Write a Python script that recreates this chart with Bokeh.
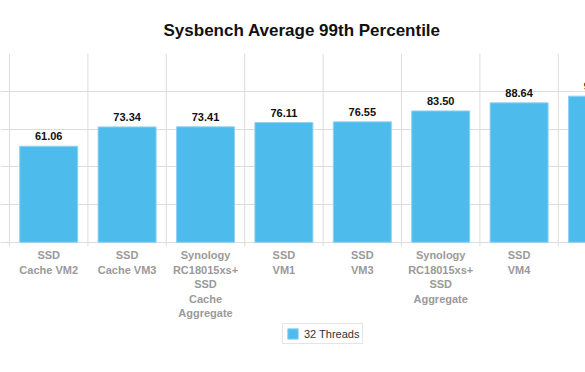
from bokeh.plotting import figure
from bokeh.models import ColumnDataSource, FixedTicker, Legend, LegendItem, Range1d
from bokeh.core.properties import value
from bokeh.embed import file_html
from bokeh.resources import INLINE

categories = ["SSD\nCache VM2", "SSD\nCache VM3", "Synology\nRC18015xs+\nSSD\nCache\nAggregate",
              "SSD\nVM1", "SSD\nVM3", "Synology\nRC18015xs+\nSSD\nAggregate", "SSD\nVM4", "SSD\nVM2"]
values = [61.06, 73.34, 73.41, 76.11, 76.55, 83.50, 88.64, 92.90]
value_labels = ["61.06", "73.34", "73.41", "76.11", "76.55", "83.50", "88.64", "92.90"]
series_name = "32 Threads"
y_ticks = [0, 24, 48, 72, 96, 120]

FONT = "Liberation Sans"
BLUE = "#4dbbeb"
GRID = "#dddddd"
TICK_LEN = 2.5  # tick length below the baseline, in data units

xs = list(range(len(categories)))
src = ColumnDataSource(dict(x=xs, top=values, lab=value_labels, cat=categories, base=[0] * len(xs)))

bounds = [i - 0.5 for i in range(len(categories) + 1)]
bsrc = ColumnDataSource(dict(x=bounds, y0=[-TICK_LEN] * len(bounds), y1=[max(y_ticks)] * len(bounds)))

p = figure(width=585, height=363, output_backend="svg", toolbar_location=None,
           x_range=Range1d(-0.6148, 6.847), y_range=Range1d(-77, 120),
           min_border_left=0, min_border_right=0, min_border_top=53, min_border_bottom=0)

p.title.text = "Sysbench Average 99th Percentile"
p.title.align = "left"
p.title.text_font = FONT
p.title.text_font_size = "17px"
p.title.text_font_style = "bold"
p.title.text_color = "#111111"
p.title.offset = 163
p.title.standoff = 28

p.outline_line_color = None
p.xaxis.visible = False
p.yaxis.visible = False
p.xgrid.visible = False
p.ygrid.ticker = FixedTicker(ticks=y_ticks)
p.ygrid.grid_line_color = GRID

# category separators (grid lines + small ticks below the baseline)
p.segment(x0="x", x1="x", y0="y0", y1="y1", source=bsrc, line_color=GRID, line_width=1)

r = p.vbar(x="x", top="top", width=0.74, source=src, fill_color=BLUE, line_color="#8fd3f2", line_width=1)
p.text(x="x", y="top", text="lab", source=src, text_align="center", text_baseline="bottom",
       y_offset=-6, text_font=value(FONT), text_font_size="11px", text_font_style="bold",
       text_color="#111111")
p.text(x="x", y="base", text="cat", source=src, text_align="center", text_baseline="top",
       y_offset=7, text_font=value(FONT), text_font_size="11px", text_font_style="bold",
       text_color="#9a9a9a", text_line_height=1.2)

legend = Legend(items=[LegendItem(label=series_name, renderers=[r])], location=(282, 19),
                orientation="horizontal", border_line_color="#cccccc", label_text_font=FONT,
                label_text_font_size="11px", label_text_color="#333333", glyph_width=13,
                glyph_height=13, padding=3, label_standoff=5, margin=0, label_height=13,
                background_fill_alpha=1)
p.add_layout(legend, "center")

open("out.html", "w").write(file_html(p, INLINE))
